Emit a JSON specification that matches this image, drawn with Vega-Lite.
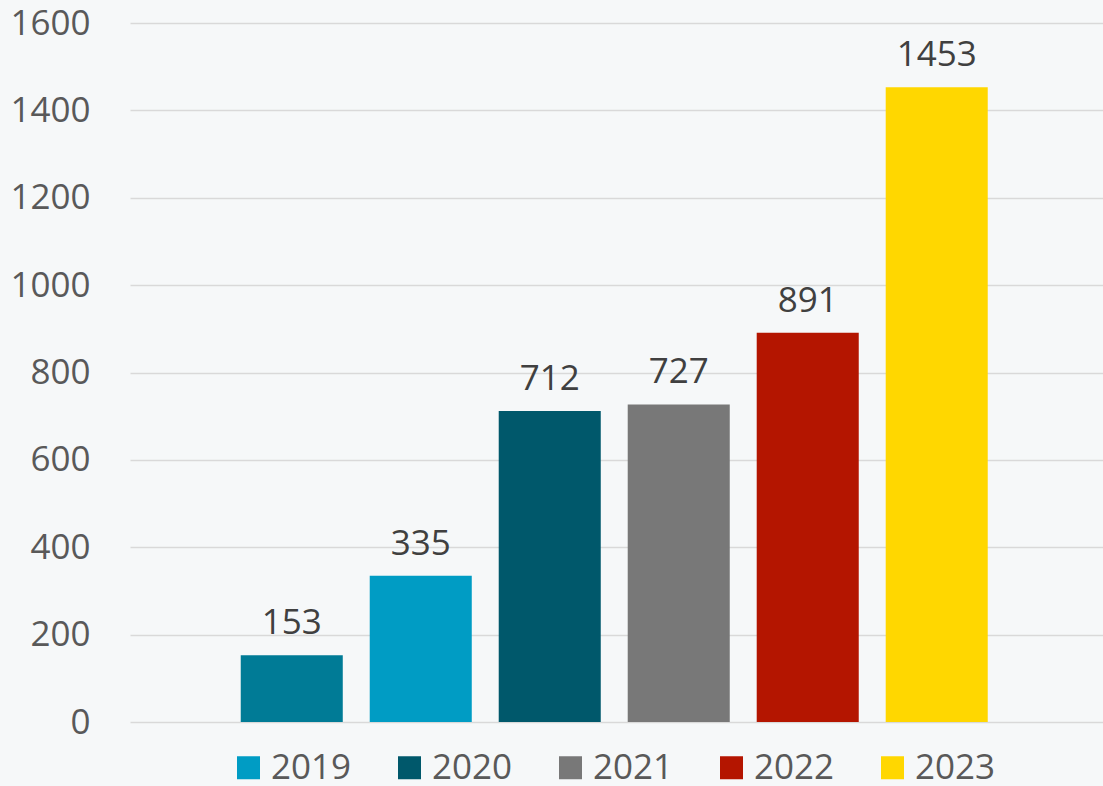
{
  "$schema": "https://vega.github.io/schema/vega-lite/v6.json",
  "autosize": {"type": "none"},
  "padding": {"left": 130, "top": 23, "right": 0, "bottom": 64},
  "width": 973,
  "height": 699,
  "background": "#f6f8f9",
  "config": {
    "view": {"stroke": null},
    "font": "Open Sans"
  },
  "data": {
    "values": [
      {"year": "2018", "value": 153},
      {"year": "2019", "value": 335},
      {"year": "2020", "value": 712},
      {"year": "2021", "value": 727},
      {"year": "2022", "value": 891},
      {"year": "2023", "value": 1453}
    ]
  },
  "encoding": {
    "x": {
      "field": "year",
      "type": "nominal",
      "sort": null,
      "scale": {"paddingInner": 0.209, "paddingOuter": 0.876, "align": 0.49},
      "axis": null
    },
    "y": {
      "field": "value",
      "type": "quantitative",
      "scale": {"domain": [0, 1600], "nice": false},
      "axis": {
        "values": [0, 200, 400, 600, 800, 1000, 1200, 1400, 1600],
        "format": "d",
        "title": null,
        "domain": false,
        "ticks": false,
        "labelPadding": 40,
        "labelFontSize": 35,
        "labelColor": "#595959",
        "labelFont": "Open Sans",
        "gridColor": "#d9d9d9",
        "gridWidth": 1.5
      }
    }
  },
  "layer": [
    {
      "mark": {"type": "bar"},
      "encoding": {
        "color": {
          "field": "year",
          "type": "nominal",
          "scale": {
            "domain": ["2018", "2019", "2020", "2021", "2022", "2023"],
            "range": ["#007b96", "#009cc4", "#00586b", "#787878", "#b41500", "#ffd700"]
          },
          "legend": {
            "values": ["2019", "2020", "2021", "2022", "2023"],
            "orient": "none",
            "legendX": 101,
            "legendY": 727,
            "direction": "horizontal",
            "title": null,
            "symbolType": "square",
            "symbolSize": 529,
            "symbolStrokeWidth": 0,
            "labelFontSize": 35,
            "labelColor": "#595959",
            "labelFont": "Open Sans",
            "labelOffset": 5,
            "columnPadding": 40
          }
        }
      }
    },
    {
      "mark": {"type": "text", "baseline": "alphabetic", "dy": -21, "fontSize": 35, "color": "#404040", "font": "Open Sans"},
      "encoding": {
        "text": {"field": "value", "type": "quantitative"}
      }
    }
  ]
}
